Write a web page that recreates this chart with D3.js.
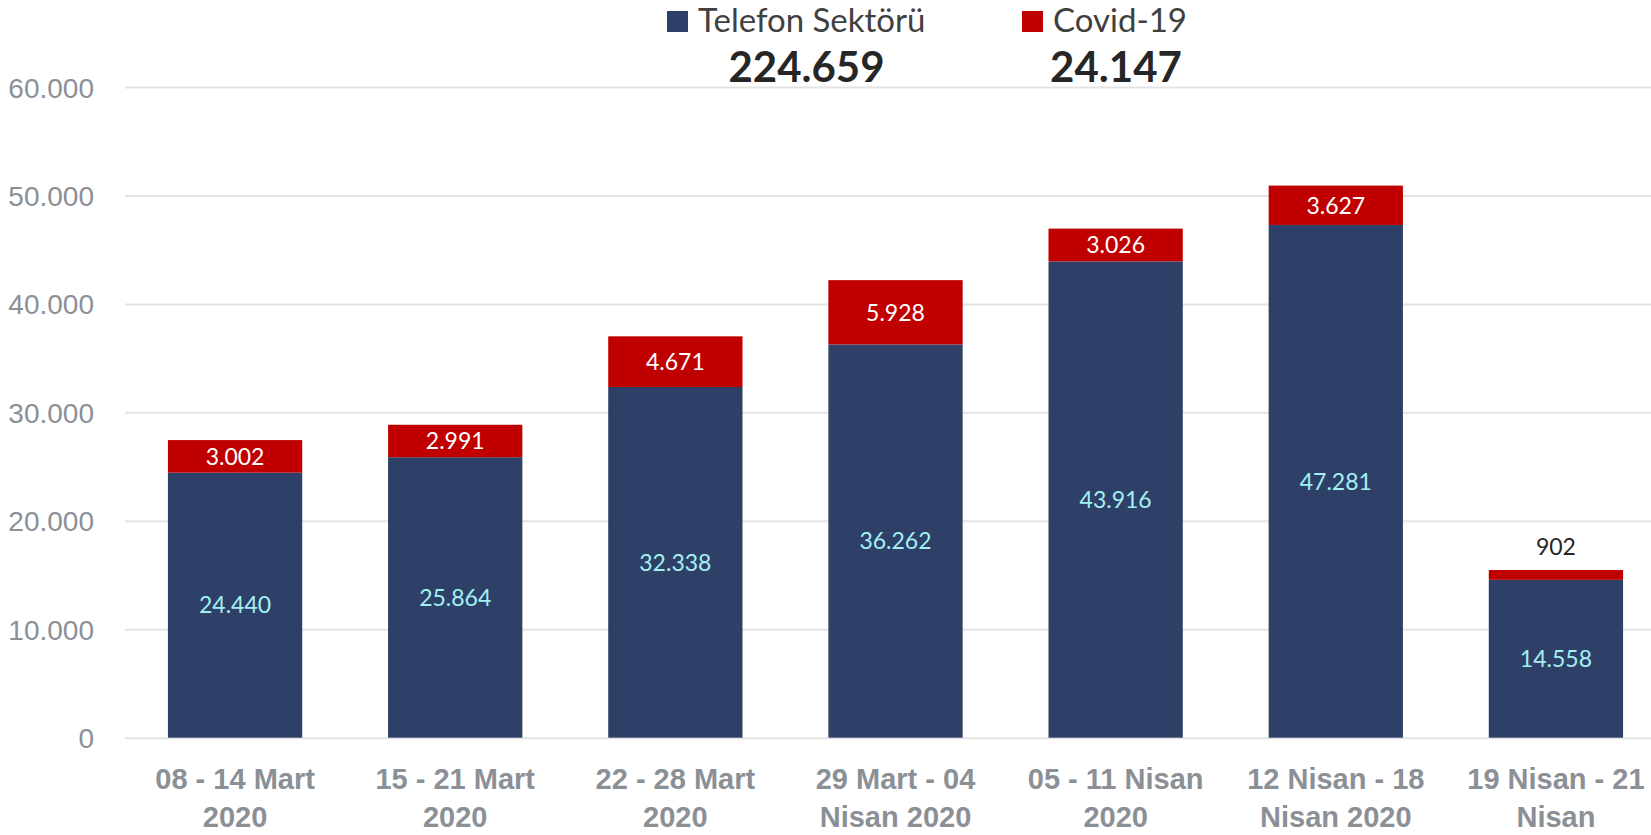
<!DOCTYPE html>
<html>
<head>
<meta charset="utf-8">
<script src="https://cdn.jsdelivr.net/npm/d3@7"></script>
<style>
  body { margin: 0; background: #fff; }
  svg { display: block; font-family: Lato, "Noto Sans", sans-serif; }
  .y-axis text { fill: #8b9097; font-size: 28px; }
  .y-axis line { stroke: #e4e4e4; stroke-width: 2; }
  .x-axis text { fill: #8b9097; font-size: 29px; font-weight: bold; }
</style>
</head>
<body>
<div id="chart"></div>
<script>
// weekly counts
var categories = ["08 - 14 Mart 2020", "15 - 21 Mart 2020", "22 - 28 Mart 2020",
  "29 Mart - 04 Nisan 2020", "05 - 11 Nisan 2020", "12 Nisan - 18 Nisan 2020", "19 Nisan - 21 Nisan"];
var tickLines = [["08 - 14 Mart", "2020"], ["15 - 21 Mart", "2020"], ["22 - 28 Mart", "2020"],
  ["29 Mart - 04", "Nisan 2020"], ["05 - 11 Nisan", "2020"], ["12 Nisan - 18", "Nisan 2020"], ["19 Nisan - 21", "Nisan"]];
var telefon = [24440, 25864, 32338, 36262, 43916, 47281, 14558];
var covid = [3002, 2991, 4671, 5928, 3026, 3627, 902];
var yTicks = [0, 10000, 20000, 30000, 40000, 50000, 60000];
var seriesNames = ["Telefon Sektörü", "Covid-19"];

var svgWidth = 1651;
var svgHeight = 835;

var locale = d3.formatLocale({ decimal: ",", thousands: ".", grouping: [3], currency: ["", "₺"] });
var fmt = locale.format(",d");

var svg = d3.select("#chart")
  .append("svg")
  .attr("width", svgWidth)
  .attr("height", svgHeight);

var xScale = d3.scaleBand()
  .domain(categories)
  .range([125, 1666])
  .paddingInner(0.39)
  .paddingOuter(0.195);

var yScale = d3.scaleLinear()
  .domain([0, 60000])
  .range([737.7, 87]);

// y axis + gridlines
var leftAxis = d3.axisLeft(yScale)
  .tickValues(yTicks)
  .tickSize(-(svgWidth - 125))
  .tickPadding(31)
  .tickFormat(fmt);

var yg = svg.append("g")
  .attr("class", "y-axis")
  .attr("transform", "translate(125,0)")
  .call(leftAxis);
yg.select(".domain").remove();
yg.selectAll("text").attr("dy", "0.36em");

// x axis with wrapped labels
var bottomAxis = d3.axisBottom(xScale).tickSize(0).tickPadding(0);
var xg = svg.append("g")
  .attr("class", "x-axis")
  .attr("transform", "translate(0,737.7)")
  .call(bottomAxis);
xg.select(".domain").remove();
xg.selectAll(".tick text").each(function(d, i) {
  var t = d3.select(this).text(null).attr("y", 0).attr("dy", null);
  tickLines[i].forEach(function(line, j) {
    t.append("tspan").attr("x", 0).attr("y", 51 + j * 38).text(line);
  });
});

var rows = categories.map(function(c, i) {
  return { cat: c, tel: telefon[i], cov: covid[i] };
});

var bars = svg.append("g").selectAll("g").data(rows).enter().append("g");

bars.append("rect")
  .attr("x", d => xScale(d.cat))
  .attr("width", xScale.bandwidth())
  .attr("y", d => yScale(d.tel))
  .attr("height", d => yScale(0) - yScale(d.tel))
  .attr("fill", "#2e4068");

bars.append("rect")
  .attr("x", d => xScale(d.cat))
  .attr("width", xScale.bandwidth())
  .attr("y", d => yScale(d.tel + d.cov))
  .attr("height", d => yScale(d.tel) - yScale(d.tel + d.cov))
  .attr("fill", "#c00000");

bars.append("text")
  .attr("x", d => xScale(d.cat) + xScale.bandwidth() / 2)
  .attr("y", d => yScale(d.tel / 2))
  .attr("dy", "0.36em")
  .attr("text-anchor", "middle")
  .attr("font-size", 23)
  .attr("fill", "#a3f0f2")
  .text(d => fmt(d.tel));

bars.append("text")
  .attr("x", d => xScale(d.cat) + xScale.bandwidth() / 2)
  .attr("y", function(d) {
    var h = yScale(d.tel) - yScale(d.tel + d.cov);
    return h > 20 ? yScale(d.tel + d.cov / 2) : yScale(d.tel + d.cov) - 23;
  })
  .attr("dy", "0.36em")
  .attr("text-anchor", "middle")
  .attr("font-size", 23)
  .attr("fill", function(d) {
    return (yScale(d.tel) - yScale(d.tel + d.cov)) > 20 ? "#ffffff" : "#262626";
  })
  .text(d => fmt(d.cov));

// legend with totals
var totals = [d3.sum(telefon), d3.sum(covid)];
var legendX = [667, 1022];
var legendColors = ["#2e4068", "#c00000"];
var totalCenters = [806.5, 1116];

seriesNames.forEach(function(name, i) {
  svg.append("rect")
    .attr("x", legendX[i]).attr("y", 11)
    .attr("width", 21).attr("height", 21)
    .attr("fill", legendColors[i]);
  svg.append("text")
    .attr("x", legendX[i] + 31).attr("y", 32)
    .attr("font-size", 33)
    .attr("fill", "#404040")
    .text(name);
  svg.append("text")
    .attr("x", totalCenters[i]).attr("y", 82)
    .attr("text-anchor", "middle")
    .attr("font-size", 42)
    .attr("font-weight", "bold")
    .attr("fill", "#262626")
    .text(fmt(totals[i]));
});
</script>
</body>
</html>
